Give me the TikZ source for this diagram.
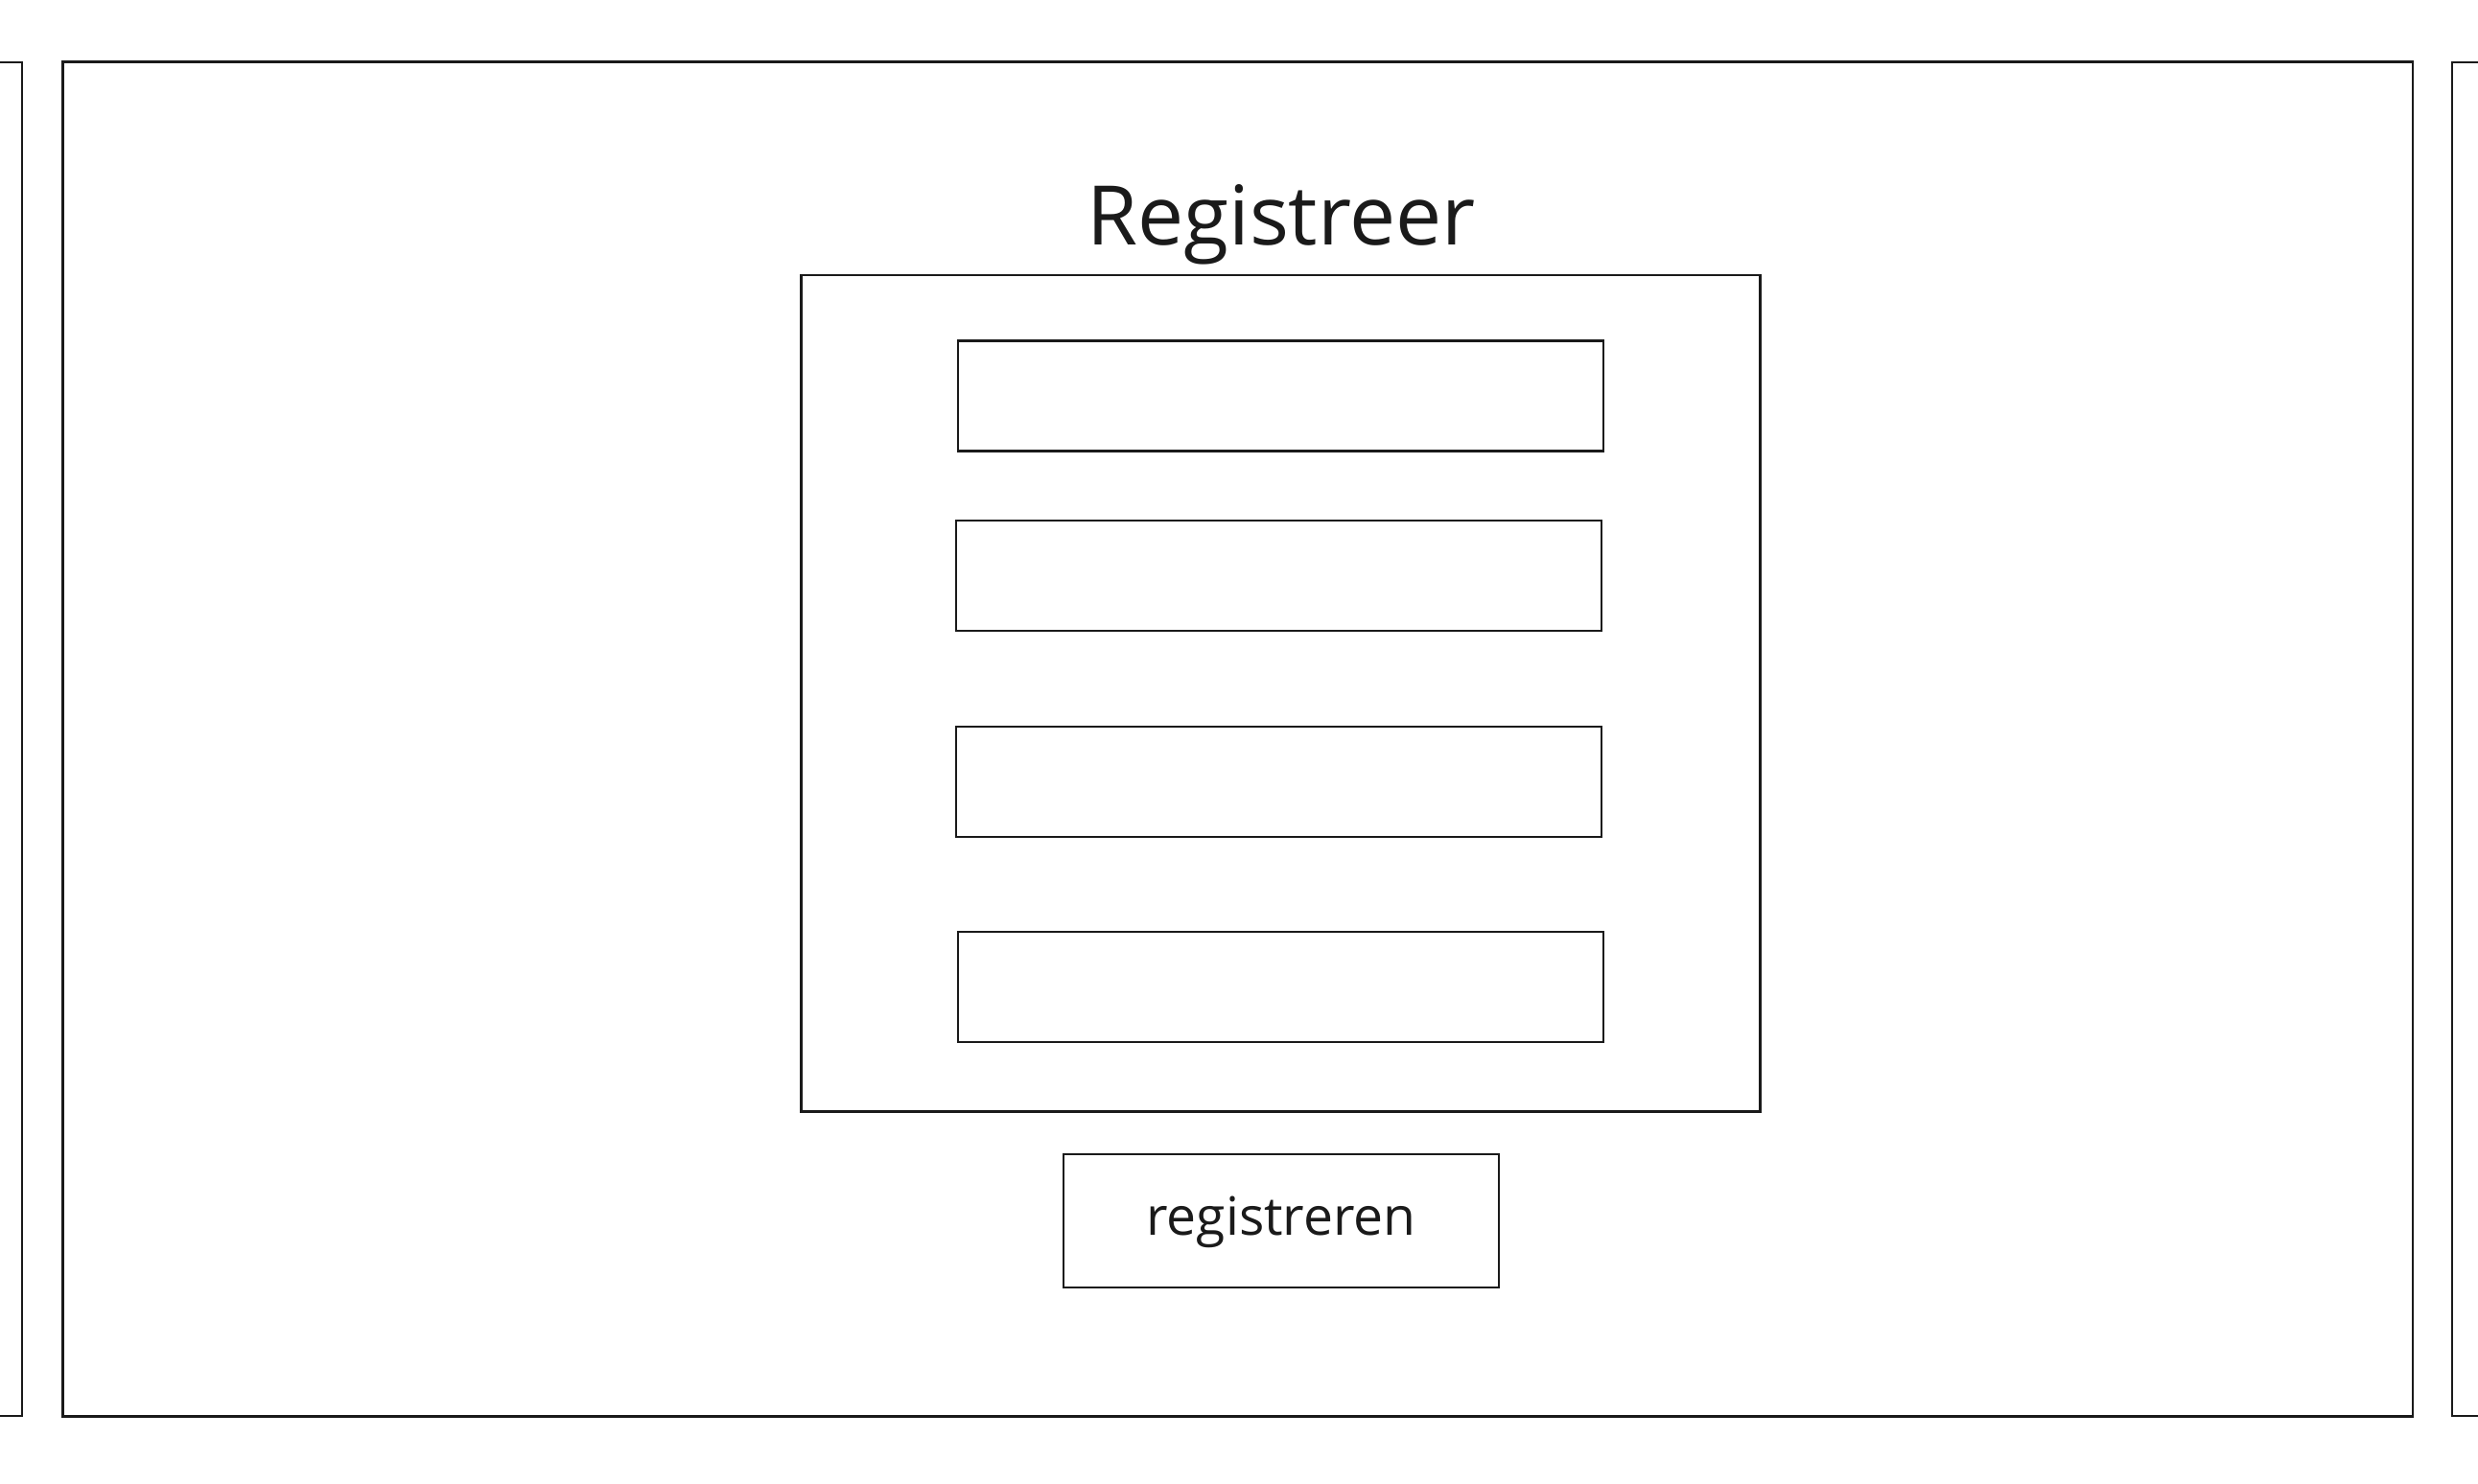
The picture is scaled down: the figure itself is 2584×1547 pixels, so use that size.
\documentclass[tikz,border=0pt]{standalone}
\usepackage{fontspec}
\setmainfont{Open Sans}
\definecolor{ink}{HTML}{1A1A1A}

\begin{document}
\begin{tikzpicture}[x=0.01cm, y=-0.01cm,
  frame/.style={draw=ink, line width=0.7pt, inner sep=0pt, outer sep=0pt},
  field/.style={frame, minimum width=6.73cm, minimum height=1.15cm},
  ]
\useasboundingbox (0,0) rectangle (2584,1547);
\draw[ink, line width=0.7pt] (-20,65) -| (23,1477) -- (-20,1477);
\draw[ink, line width=0.7pt] (2604,65) -| (2557,1477) -- (2604,1477);
\node[frame, minimum width=24.49cm, minimum height=14.12cm] (screen) at (1290.5,771) {};
\node[frame, minimum width=9.99cm, minimum height=8.72cm] (form) at (1335.5,723) {};
\node[anchor=base, text=ink, font=\fontsize{24.4}{30}\selectfont] (title) at (1336,255) {Registreer};
\node[field] (name) at (1335.5,413) {};
\node[field] (email) at (1333.5,600.5) {};
\node[field] (password) at (1333.5,815.5) {};
\node[field] (repeat) at (1335.5,1029.5) {};
\node[frame, minimum width=4.54cm, minimum height=1.39cm] (submit) at (1336,1273.5) {};
\node[anchor=base, text=ink, font=\fontsize{15.7}{19}\selectfont] (submitlabel) at (1336,1288) {registreren};
\end{tikzpicture}
\end{document}
